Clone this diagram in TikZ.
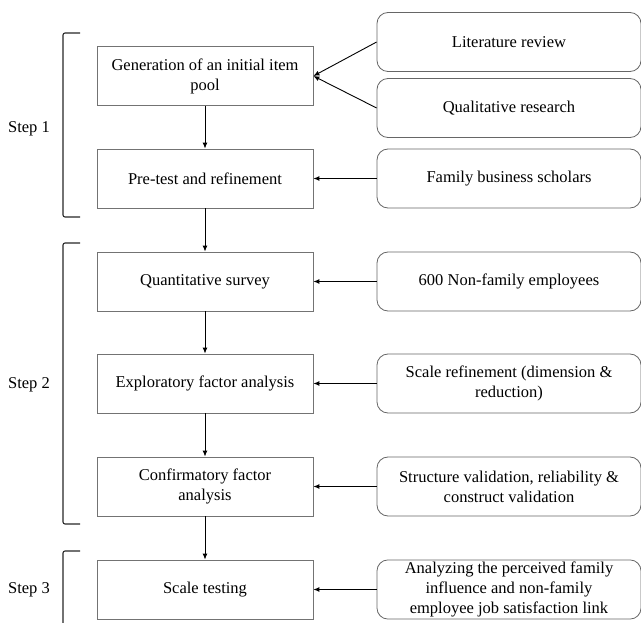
\documentclass[tikz,border=0pt]{standalone}
\usepackage{fontspec}
\setmainfont{Liberation Serif}
\usetikzlibrary{arrows.meta}
\begin{document}
\begin{tikzpicture}[x=1pt,y=-1pt,
  lbox/.style={draw=black!55, line width=0.8pt, minimum width=216pt, minimum height=59pt, align=center, inner sep=2pt, font=\fontsize{16.5}{20}\selectfont},
  rbox/.style={draw=black!60, line width=0.8pt, rounded corners=11pt, minimum width=264pt, minimum height=59pt, align=center, inner sep=2pt, font=\fontsize{16.5}{20}\selectfont},
  steplabel/.style={font=\fontsize{16.5}{20}\selectfont, inner sep=0pt},
  conn/.style={line width=0.9pt, -{Latex[length=6pt,width=5pt]}},
  brk/.style={line width=1.1pt, black!85, rounded corners=2pt}
]
\useasboundingbox (0,0) rectangle (641,623);
% left boxes
\node[lbox] (b1) at (205,76) {Generation of an initial item\\pool};
\node[lbox] (b2) at (205,178.5) {Pre-test and refinement};
\node[lbox] (b3) at (205,281.5) {Quantitative survey};
\node[lbox] (b4) at (205,383.5) {Exploratory factor analysis};
\node[lbox] (b5) at (205,486.5) {Confirmatory factor\\analysis};
\node[lbox] (b6) at (205,589.5) {Scale testing};
% right boxes
\node[rbox] (r1) at (509,42) {Literature review};
\node[rbox] (r2) at (509,108) {Qualitative research};
\node[rbox] (r3) at (509,178.5) {Family business scholars};
\node[rbox] (r4) at (509,281.5) {600 Non-family employees};
\node[rbox] (r5) at (509,383.5) {Scale refinement (dimension \&\\reduction)};
\node[rbox] (r6) at (509,486.5) {Structure validation, reliability \&\\construct validation};
\node[rbox] (r7) at (509,589.5) {Analyzing the perceived family\\influence and non-family\\employee job satisfaction link};
% connectors
\draw[conn] (r1.west) -- (b1.east);
\draw[conn] (r2.west) -- (b1.east);
\draw[conn] (r3) -- (b2);
\draw[conn] (r4) -- (b3);
\draw[conn] (r5) -- (b4);
\draw[conn] (r6) -- (b5);
\draw[conn] (r7) -- (b6);
\draw[conn] (b1) -- (b2);
\draw[conn] (b2) -- (b3);
\draw[conn] (b3) -- (b4);
\draw[conn] (b4) -- (b5);
\draw[conn] (b5) -- (b6);
% brackets
\coordinate (s1t) at (80,33);
\coordinate (s1b) at (80,217);
\draw[brk] (s1t) -- (63,33) -- (63,217) -- (s1b);
\coordinate (s2t) at (80,243);
\coordinate (s2b) at (80,524);
\draw[brk] (s2t) -- (63,243) -- (63,524) -- (s2b);
\coordinate (s3t) at (80,551);
\coordinate (s3b) at (63,630);
\draw[brk] (s3t) -- (63,551) -- (s3b);
% step labels
\node[steplabel] (l1) at (29,129) {Step 1};
\node[steplabel] (l2) at (29,385) {Step 2};
\node[steplabel] (l3) at (29,590) {Step 3};
\end{tikzpicture}
\end{document}
